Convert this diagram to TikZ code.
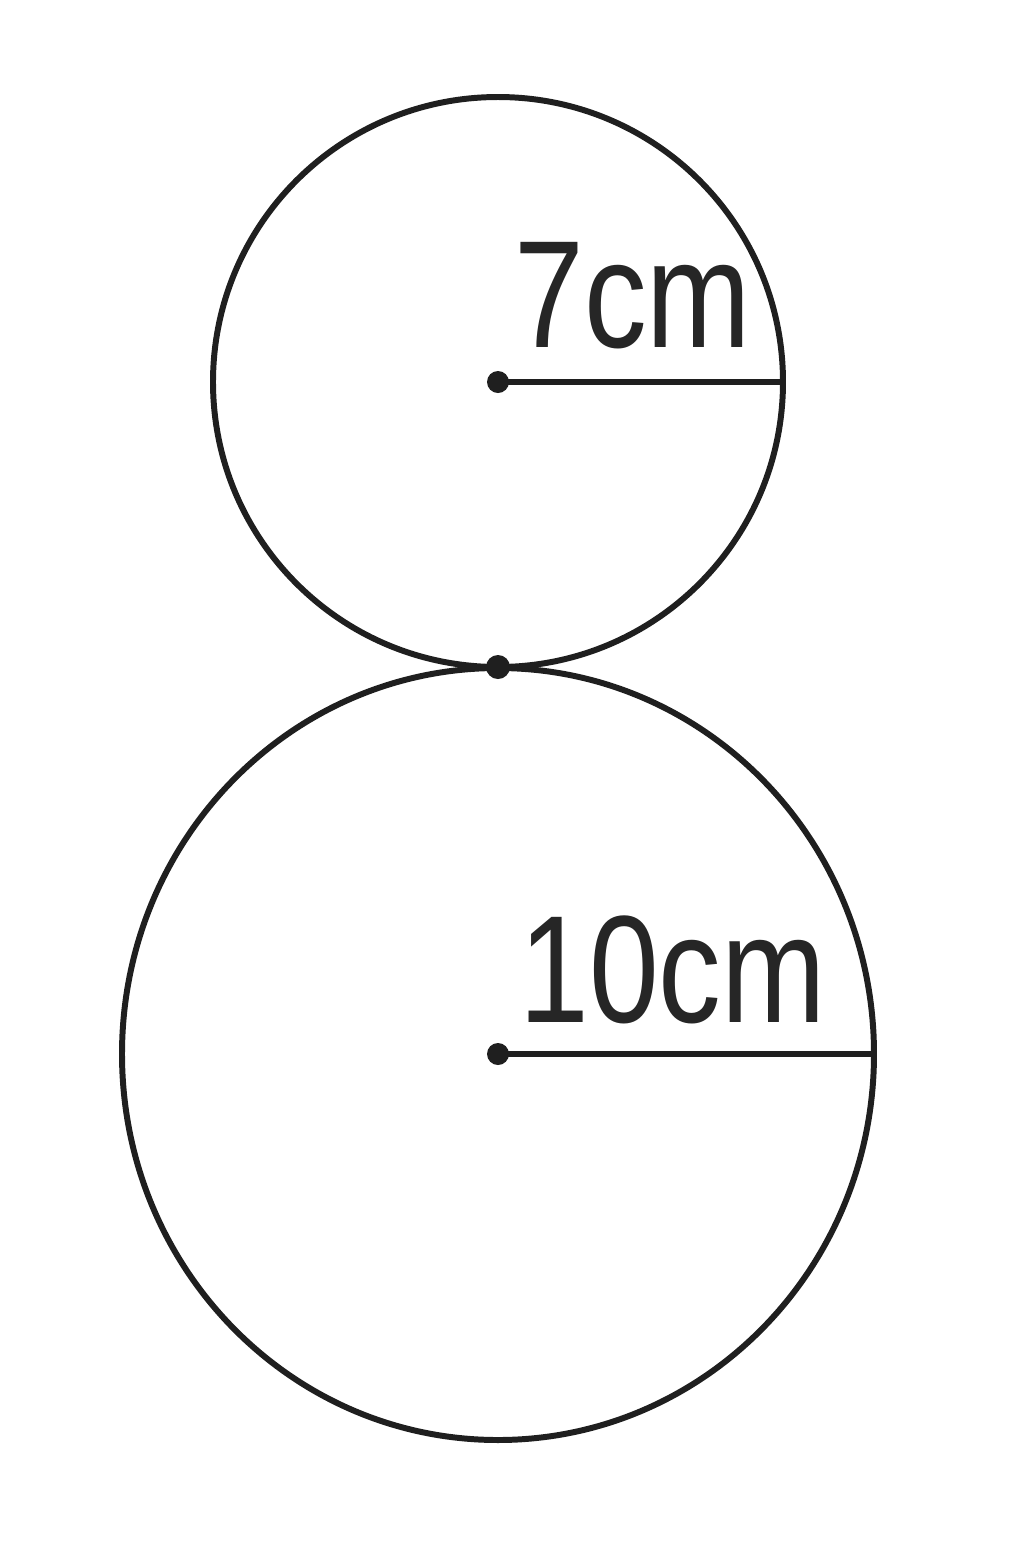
\documentclass[tikz,border=0pt]{standalone}
\usepackage{fontspec}
\setmainfont{Liberation Sans}
\begin{document}
\begin{tikzpicture}[x=0.02cm,y=-0.02cm,line width=3.4pt,draw=black!88,fill=black!88,text=black!85]
        \useasboundingbox (0,0) rectangle (1024,1543);
        \coordinate (top) at (498,382);
        \coordinate (bot) at (498,1054);
        \coordinate (topr) at (783,382);
        \coordinate (botr) at (873,1054);
        \draw (top) circle (285);
        \draw (bot) ellipse (376 and 386);
        \draw (top) -- (topr);
        \draw (bot) -- (botr);
        \fill (top) circle (11);
        \fill (bot) circle (11);
        \fill (498,667) circle (12);
        \node[anchor=base west,inner sep=0pt,xscale=0.82,font=\fontsize{87}{90}\selectfont] (lbltop) at (512,347) {7cm};
        \node[anchor=base west,inner sep=0pt,xscale=0.82,font=\fontsize{87}{90}\selectfont] (lblbot) at (517,1022) {10cm};
    \end{tikzpicture}
\end{document}
